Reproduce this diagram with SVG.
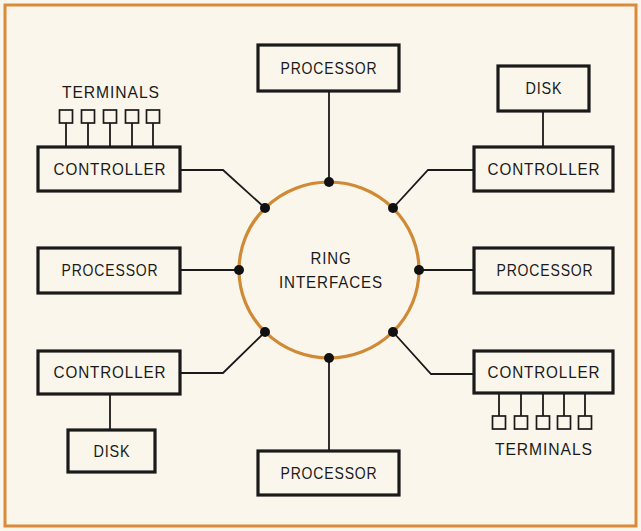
<svg xmlns="http://www.w3.org/2000/svg" width="641" height="531" viewBox="0 0 641 531">
<style>
.box{fill:none;stroke:#1a1a1a;stroke-width:3.2}
.ln{fill:none;stroke:#1a1a1a;stroke-width:1.8}
.sq{fill:#faf6ec;stroke:#1a1a1a;stroke-width:1.7}
.t{font-family:"Liberation Sans",Arial,sans-serif;font-size:17px;letter-spacing:1px;fill:#1a1a1a;text-anchor:middle}
.dot{fill:#111}
</style>
<rect x="0" y="0" width="641" height="531" fill="#faf6ec"/>
<rect x="5" y="5" width="631" height="521" fill="none" stroke="#db8a3a" stroke-width="3"/>
<g id="connectors">
<line class="ln" x1="329" y1="91" x2="329" y2="182"/>
<polyline class="ln" points="180,170 223,170 265,208"/>
<line class="ln" x1="543" y1="111" x2="543" y2="147"/>
<polyline class="ln" points="474,170 428,170 393,208"/>
<line class="ln" x1="180" y1="270" x2="239" y2="270"/>
<line class="ln" x1="419" y1="270" x2="474" y2="270"/>
<polyline class="ln" points="180,373 223,373 265,332"/>
<polyline class="ln" points="474,374 431,374 393,332"/>
<line class="ln" x1="329" y1="358" x2="329" y2="451"/>
<line class="ln" x1="110" y1="394" x2="110" y2="430"/>
<g>
<line class="ln" x1="66" y1="123" x2="66" y2="147"/>
<line class="ln" x1="88" y1="123" x2="88" y2="147"/>
<line class="ln" x1="110" y1="123" x2="110" y2="147"/>
<line class="ln" x1="132" y1="123" x2="132" y2="147"/>
<line class="ln" x1="153" y1="123" x2="153" y2="147"/>
<line class="ln" x1="499" y1="393" x2="499" y2="416"/>
<line class="ln" x1="521" y1="393" x2="521" y2="416"/>
<line class="ln" x1="543" y1="393" x2="543" y2="416"/>
<line class="ln" x1="564" y1="393" x2="564" y2="416"/>
<line class="ln" x1="585" y1="393" x2="585" y2="416"/>
</g>
</g>
<g id="ring">
<ellipse cx="329" cy="270" rx="90" ry="88" fill="none" stroke="#d08a35" stroke-width="3.2"/>
<text class="t" x="331" y="264" textLength="41" lengthAdjust="spacingAndGlyphs">RING</text>
<text class="t" x="331" y="288" textLength="104" lengthAdjust="spacingAndGlyphs">INTERFACES</text>
<circle class="dot" cx="329" cy="182" r="5"/>
<circle class="dot" cx="265" cy="208" r="5"/>
<circle class="dot" cx="393" cy="208" r="5"/>
<circle class="dot" cx="239" cy="270" r="5"/>
<circle class="dot" cx="419" cy="270" r="5"/>
<circle class="dot" cx="265" cy="332" r="5"/>
<circle class="dot" cx="393" cy="332" r="5"/>
<circle class="dot" cx="329" cy="358" r="5"/>
</g>
<g id="proc-top"><rect class="box" x="258" y="45" width="141" height="46"/><text class="t" x="329" y="74" textLength="97" lengthAdjust="spacingAndGlyphs">PROCESSOR</text></g>
<g id="ctrl-tl"><rect class="box" x="38" y="147" width="142" height="44"/><text class="t" x="110" y="175" textLength="113" lengthAdjust="spacingAndGlyphs">CONTROLLER</text></g>
<g id="terminals-tl">
<text class="t" x="111" y="98" textLength="98" lengthAdjust="spacingAndGlyphs">TERMINALS</text>
<rect class="sq" x="59.5" y="110" width="13" height="13"/>
<rect class="sq" x="81.5" y="110" width="13" height="13"/>
<rect class="sq" x="103.5" y="110" width="13" height="13"/>
<rect class="sq" x="125.5" y="110" width="13" height="13"/>
<rect class="sq" x="146.5" y="110" width="13" height="13"/>
</g>
<g id="disk-tr"><rect class="box" x="498" y="66" width="91" height="45"/><text class="t" x="544" y="94" textLength="37" lengthAdjust="spacingAndGlyphs">DISK</text></g>
<g id="ctrl-tr"><rect class="box" x="474" y="147" width="139" height="44"/><text class="t" x="544" y="175" textLength="113" lengthAdjust="spacingAndGlyphs">CONTROLLER</text></g>
<g id="proc-l"><rect class="box" x="38" y="248" width="142" height="45"/><text class="t" x="110" y="276" textLength="97" lengthAdjust="spacingAndGlyphs">PROCESSOR</text></g>
<g id="proc-r"><rect class="box" x="474" y="248" width="139" height="45"/><text class="t" x="545" y="276" textLength="97" lengthAdjust="spacingAndGlyphs">PROCESSOR</text></g>
<g id="ctrl-bl"><rect class="box" x="38" y="351" width="142" height="43"/><text class="t" x="110" y="378" textLength="113" lengthAdjust="spacingAndGlyphs">CONTROLLER</text></g>
<g id="ctrl-br"><rect class="box" x="474" y="351" width="139" height="42"/><text class="t" x="544" y="378" textLength="113" lengthAdjust="spacingAndGlyphs">CONTROLLER</text></g>
<g id="terminals-br">
<rect class="sq" x="492.5" y="416" width="13" height="13"/>
<rect class="sq" x="514.5" y="416" width="13" height="13"/>
<rect class="sq" x="536.5" y="416" width="13" height="13"/>
<rect class="sq" x="557.5" y="416" width="13" height="13"/>
<rect class="sq" x="578.5" y="416" width="13" height="13"/>
<text class="t" x="544" y="455" textLength="98" lengthAdjust="spacingAndGlyphs">TERMINALS</text>
</g>
<g id="disk-bl"><rect class="box" x="68" y="430" width="87" height="42"/><text class="t" x="112" y="457" textLength="37" lengthAdjust="spacingAndGlyphs">DISK</text></g>
<g id="proc-b"><rect class="box" x="258" y="451" width="141" height="44"/><text class="t" x="329" y="479" textLength="97" lengthAdjust="spacingAndGlyphs">PROCESSOR</text></g>
</svg>
